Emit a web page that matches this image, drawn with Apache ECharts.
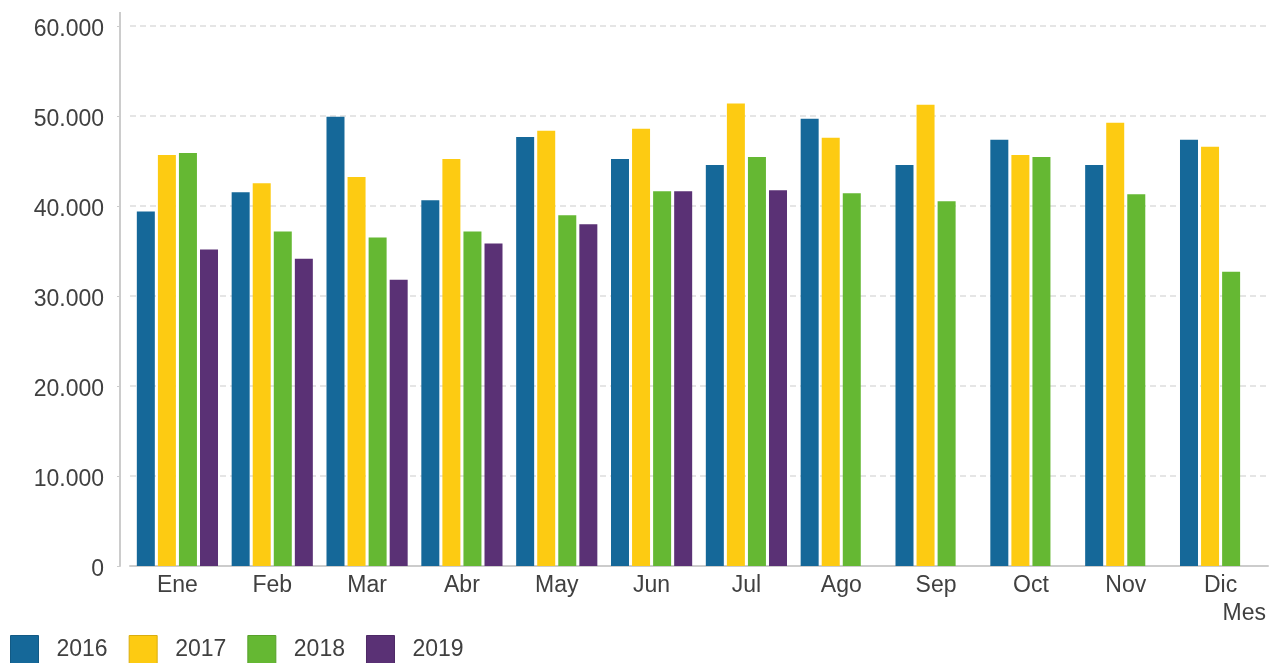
<!DOCTYPE html>
<html>
<head>
<meta charset="utf-8">
<script src="https://cdn.jsdelivr.net/npm/echarts@6/dist/echarts.min.js"></script>
<style>
html,body{margin:0;padding:0;background:#fff;}
#chart{width:1269px;height:663px;}
</style>
</head>
<body>
<div id="chart"></div>
<script>
const months = ['Ene','Feb','Mar','Abr','May','Jun','Jul','Ago','Sep','Oct','Nov','Dic'];
const years = ['2016','2017','2018','2019'];
const v2016 = [39400, 41530, 49920, 40640, 47680, 45220, 44550, 49700, 44550, 47350, 44550, 47350];
const v2017 = [45670, 42540, 43210, 45220, 48360, 48580, 51380, 47570, 51260, 45670, 49250, 46570];
const v2018 = [45900, 37170, 36500, 37170, 38960, 41640, 45450, 41420, 40530, 45450, 41310, 32700];
const v2019 = [35160, 34150, 31800, 35830, 37960, 41640, 41760, null, null, null, null, null];
const yTicks = [0, 10000, 20000, 30000, 40000, 50000, 60000];
const colors = ['#156899', '#fdcb12', '#65b833', '#5a3175'];
const borders = ['#125a85', '#d9ad0f', '#57a02b', '#4d2966'];
const allData = [v2016, v2017, v2018, v2019];

const fmt = v => String(v).replace(/\B(?=(\d{3})+(?!\d))/g, '.');

const chart = echarts.init(document.getElementById('chart'), null, {renderer: 'canvas'});
const font = 'Arial, "Liberation Sans", Helvetica, sans-serif';
chart.setOption({
  animation: false,
  textStyle: {fontFamily: font},
  grid: {left: 130, right: 0, top: 26, bottom: 97, containLabel: false},
  legend: {
    left: 10, top: 635, padding: 0,
    itemWidth: 28, itemHeight: 28, itemGap: 21,
    icon: 'rect',
    textStyle: {fontSize: 23, color: '#404040', padding: [3, 0, 0, 13], fontFamily: font},
    data: years.map((y, i) => ({name: y, itemStyle: {color: colors[i], borderColor: borders[i], borderWidth: 1}}))
  },
  xAxis: {
    type: 'category',
    data: months,
    name: 'Mes',
    nameLocation: 'end',
    nameGap: -2,
    nameTextStyle: {fontSize: 23, color: '#404040', align: 'right', verticalAlign: 'top', padding: [36, 0, 0, 0], fontFamily: font},
    axisLine: {show: true, lineStyle: {color: '#cccccc', width: 2}},
    axisTick: {show: false},
    axisLabel: {fontSize: 23, color: '#404040', margin: 8, fontFamily: font}
  },
  yAxis: {
    type: 'value',
    min: yTicks[0], max: yTicks[yTicks.length - 1], interval: 10000,
    offset: 10,
    axisLine: {show: true, lineStyle: {color: '#cccccc', width: 2}, symbol: ['none', 'rect'], symbolSize: [2, 28]},
    axisTick: {show: true, length: 3, lineStyle: {color: '#cccccc', width: 1}},
    axisLabel: {
      margin: 16, verticalAlign: 'middle',
      formatter: v => '{v|' + fmt(v) + '}',
      rich: {v: {fontSize: 23, color: '#404040', fontFamily: font, lineHeight: 23, padding: [7, 0, 0, 0]}}
    },
    splitLine: {show: true, lineStyle: {color: '#dddddd', width: 1.5, type: [6, 4]}}
  },
  series: years.map((y, i) => ({
    name: y,
    type: 'bar',
    data: allData[i],
    barWidth: 18,
    barGap: '17%',
    itemStyle: {color: colors[i]}
  }))
});
</script>
</body>
</html>
